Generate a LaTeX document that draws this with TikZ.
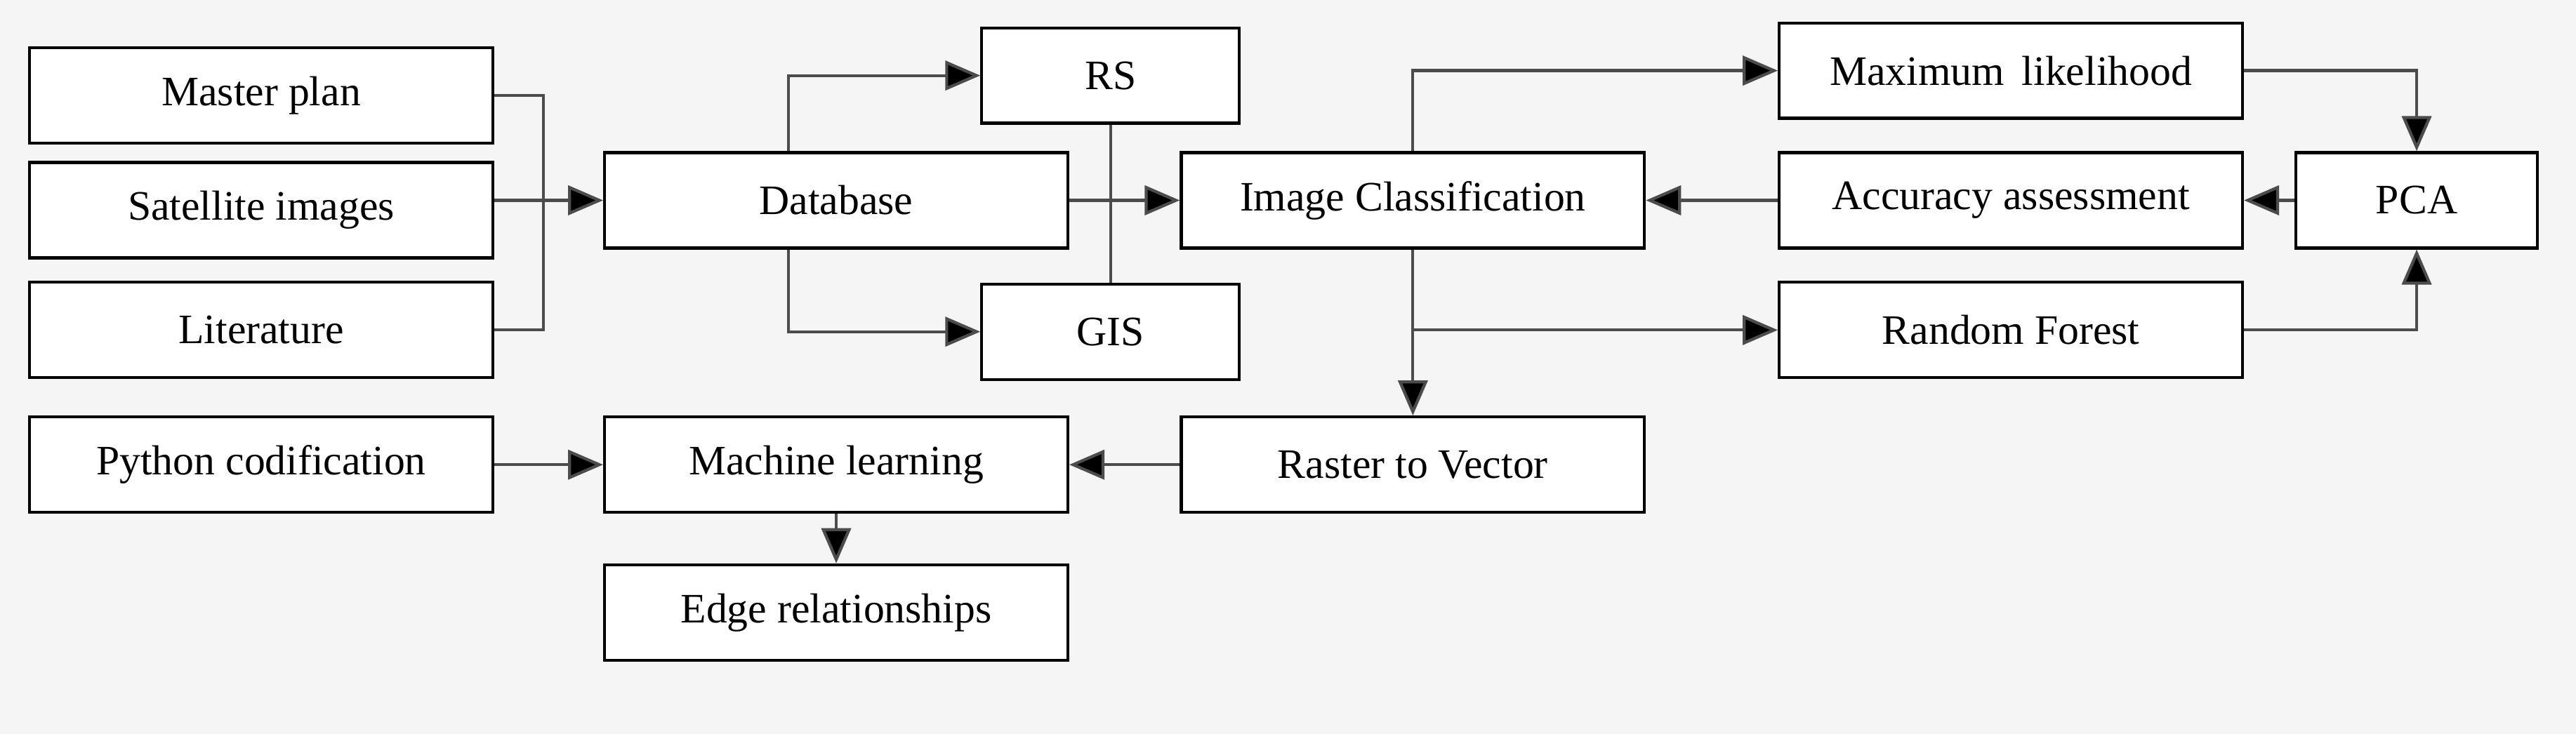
\documentclass[tikz,border=0pt]{standalone}
\usepackage{fontspec}
\setmainfont{Liberation Serif}
\usetikzlibrary{arrows.meta}
\begin{document}
\begin{tikzpicture}[x=0.0234cm,y=-0.0234cm,
  box/.style={draw,line width=1.2pt,fill=white,minimum width=6.6cm,minimum height=1.36cm,inner sep=0pt,font=\fontsize{17}{20}\selectfont},
  sbox/.style={box,minimum width=3.67cm},
  ln/.style={line width=1.2pt,draw=black!70},
  ar/.style={ln,-{Triangle[length=0.5cm,width=0.42cm,fill=black]}}]
\fill[black!4] (0,0) rectangle (1568,447);
\useasboundingbox (0,0) rectangle (1568,447);
\node[box] (mp) at (159,58) {Master plan};
\node[box] (sat) at (159,128) {Satellite images};
\node[box] (lit) at (159,201) {Literature};
\node[box] (db) at (509,122) {Database};
\node[sbox] (rs) at (676,46) {RS};
\node[sbox] (gis) at (676,202) {GIS};
\node[box] (ic) at (860,122) {Image Classification};
\node[box] (mlh) at (1224,43) {Maximum\, likelihood};
\node[box] (acc) at (1224,122) {Accuracy assessment};
\node[sbox,minimum width=3.44cm] (pca) at (1471,122) {PCA};
\node[box] (rf) at (1224,201) {Random Forest};
\node[box] (rv) at (860,283) {Raster to Vector};
\node[box] (py) at (159,283) {Python codification};
\node[box] (ml) at (509,283) {Machine learning};
\node[box] (edge) at (509,373) {Edge relationships};
\draw[ln] (mp.east) -- ++(30,0) |- (lit.east);
\draw[ar] (db.west -| sat.east) -- (db.west);
\draw[ar] ([xshift=-0.68cm]db.north) |- (rs.west);
\draw[ar] ([xshift=-0.68cm]db.south) |- (gis.west);
\draw[ln] (rs.south) -- (gis.north);
\draw[ar] (db.east) -- (ic.west);
\draw[ar] (ic.north) |- (mlh.west);
\draw[ar] (mlh.east) -| (pca.north);
\draw[ar] (pca.west) -- (acc.east);
\draw[ar] (acc.west) -- (ic.east);
\draw[ar] (ic.south) -- (rv.north);
\draw[ar] (ic.south |- rf.west) -- (rf.west);
\draw[ar] (rf.east) -| (pca.south);
\draw[ar] (rv.west) -- (ml.east);
\draw[ar] (py.east) -- (ml.west);
\draw[ar] (ml.south) -- (edge.north);
\end{tikzpicture}
\end{document}
